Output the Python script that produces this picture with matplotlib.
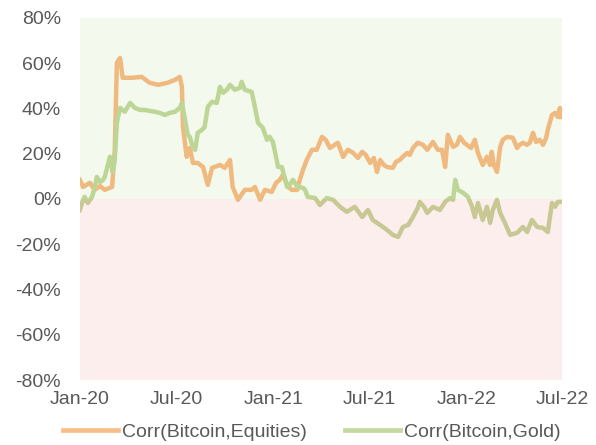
import matplotlib
matplotlib.use("Agg")
import matplotlib.pyplot as plt
import matplotlib.dates as mdates
import matplotlib.ticker as mticker
from matplotlib.lines import Line2D
import pandas as pd

plt.rcParams['font.family'] = ['Liberation Sans', 'DejaVu Sans']

# Days since 2020-01-01 and correlation values (%)
eq_days = [0, 6, 19, 28, 38, 47, 61, 66, 70, 76, 81, 98, 117, 132, 148, 166, 180, 189, 193, 195,
           202, 208, 214, 223, 233, 242, 250, 265, 274, 284, 289, 299, 312, 325, 331, 341, 350,
           363, 371, 378, 384, 394, 401, 411, 416, 422, 429, 439, 448, 458, 465, 473, 488, 498,
           507, 517, 526, 534, 541, 549, 556, 562, 568, 575, 581, 592, 598, 605, 611, 619, 624,
           630, 639, 649, 657, 668, 677, 685, 691, 696, 706, 713, 719, 727, 732, 740, 747, 753,
           762, 770, 776, 779, 783, 789, 795, 800, 808, 819, 827, 832, 838, 846, 851, 857, 863,
           870, 876, 882, 885, 893, 899, 904, 908, 910]
eq_vals = [8.4, 5.3, 7.1, 4.0, 5.7, 4.0, 5.3, 21.7, 60.1, 62.3, 53.5, 53.5, 53.9, 51.3, 50.4, 51.3,
           52.6, 53.9, 49.5, 31.8, 18.6, 22.5, 15.9, 15.9, 14.1, 6.2, 13.7, 15.0, 13.7, 17.2, 5.3,
           -0.4, 4.0, 4.0, 5.3, -0.4, 4.0, 3.1, 7.1, 8.4, 10.6, 5.3, 4.0, 4.0, 8.4, 12.8, 17.2,
           21.7, 21.7, 27.4, 26.1, 22.5, 24.8, 18.6, 21.7, 20.3, 18.1, 20.8, 19.4, 15.9, 18.1,
           11.9, 17.2, 15.0, 14.1, 13.7, 16.4, 17.2, 18.6, 20.3, 19.4, 22.5, 24.8, 23.9, 21.7,
           25.2, 21.7, 21.7, 14.1, 28.3, 23.0, 23.9, 27.4, 24.8, 23.9, 22.5, 26.1, 20.3, 15.0,
           18.6, 15.0, 20.8, 15.0, 11.9, 23.0, 26.1, 27.4, 27.0, 22.5, 23.9, 24.8, 23.9, 24.8,
           29.2, 25.2, 26.1, 23.9, 27.0, 30.5, 37.1, 38.0, 36.2, 40.2, 36.2]

gold_days = [0, 4, 9, 15, 23, 28, 32, 38, 44, 47, 53, 57, 62, 66, 70, 76, 85, 95, 104, 114, 123,
             132, 142, 151, 161, 170, 180, 189, 193, 199, 204, 208, 214, 218, 223, 231, 236, 242,
             250, 259, 265, 271, 278, 284, 293, 303, 306, 312, 325, 331, 337, 346, 354, 359, 365,
             375, 382, 392, 397, 403, 409, 412, 422, 426, 431, 445, 454, 467, 479, 492, 505, 520,
             534, 545, 554, 568, 581, 592, 602, 611, 621, 630, 639, 643, 651, 657, 668, 681, 691,
             700, 706, 710, 715, 725, 734, 742, 747, 753, 762, 770, 776, 781, 789, 795, 804, 814,
             827, 838, 846, 855, 865, 876, 885, 893, 899, 904, 910]
gold_vals = [-4.9, -1.8, 0.9, -1.8, 0.9, 4.9, 9.7, 7.5, 8.4, 9.7, 15.0, 18.6, 11.9, 17.2, 33.6,
             40.2, 38.5, 42.4, 40.2, 39.3, 39.3, 38.9, 38.5, 38.0, 37.1, 38.0, 38.5, 40.2, 42.4,
             34.9, 28.3, 27.4, 22.5, 21.7, 29.2, 30.5, 31.8, 40.7, 42.9, 42.4, 49.5, 46.9, 48.2,
             50.4, 48.2, 49.1, 51.7, 48.2, 47.3, 40.7, 33.6, 31.4, 26.1, 27.4, 25.2, 14.1, 14.1,
             5.3, 6.2, 8.4, 6.2, 5.3, 4.9, 4.0, 0.9, 0.4, -2.7, 0.4, -0.4, -3.5, -5.7, -3.5, -8.0,
             -4.9, -9.3, -11.5, -13.7, -15.9, -16.8, -12.4, -11.5, -8.0, -4.0, -1.3, -3.5, -6.2,
             -3.5, -4.9, -1.3, 0.4, -0.4, 8.4, 4.0, 2.7, 0.9, -3.5, -8.0, -1.8, -9.3, -3.5, -10.6,
             -4.9, -0.4, -6.2, -10.6, -15.9, -15.0, -12.4, -14.6, -9.3, -12.4, -12.8, -14.6, -1.8,
             -3.5, -1.3, -1.3]

series_labels = ['Corr(Bitcoin,Equities)', 'Corr(Bitcoin,Gold)']
y_ticks = [-80, -60, -40, -20, 0, 20, 40, 60, 80]

base = pd.Timestamp('2020-01-01')
eq_dates = base + pd.to_timedelta(eq_days, unit='D')
gold_dates = base + pd.to_timedelta(gold_days, unit='D')

fig = plt.figure(figsize=(5.96, 4.45), dpi=100)
ax = fig.add_axes([0.134, 0.146, 0.809, 0.814])

x0, x1 = pd.Timestamp('2020-01-01'), pd.Timestamp('2022-07-01')
ax.set_xlim(x0, x1)
ax.set_ylim(-80, 80)

pos_bg = ax.axhspan(0, 80, color='#F3F9EC', zorder=0, lw=0)
neg_bg = ax.axhspan(-80, 0, color='#FDEEEE', zorder=0, lw=0)

lw = 3.2
ax.plot(eq_dates, eq_vals, color='#F0B97F', lw=lw, zorder=2, solid_joinstyle='round')
g_pos, = ax.plot(gold_dates, gold_vals, color='#BDD696', lw=lw, zorder=3, solid_joinstyle='round')
g_neg, = ax.plot(gold_dates, gold_vals, color='#C8C894', lw=lw, zorder=3, solid_joinstyle='round')
g_pos.set_clip_path(pos_bg)
g_neg.set_clip_path(neg_bg)

ax.xaxis.set_major_locator(mdates.MonthLocator(bymonth=[1, 7]))
ax.xaxis.set_major_formatter(mdates.DateFormatter('%b-%y'))
ax.set_yticks(y_ticks)
ax.yaxis.set_major_formatter(mticker.FuncFormatter(lambda v, p: f'{v:.0f}%'))

for s in ax.spines.values():
    s.set_visible(False)
ax.tick_params(axis='both', length=0, labelsize=14, colors='#595959')
ax.tick_params(axis='x', pad=8)
ax.tick_params(axis='y', pad=13.5)

handles = [Line2D([], [], color='#F7BE8C', lw=3.4), Line2D([], [], color='#C3D99F', lw=3.4)]
fig.legend(handles, series_labels, loc='center', bbox_to_anchor=(0.523, 0.029), ncol=2,
           frameon=False, fontsize=14, labelcolor='#595959', handlelength=2.8,
           handletextpad=0.2, columnspacing=2.0, borderpad=0.1)

fig.savefig('out.png', dpi=100)
